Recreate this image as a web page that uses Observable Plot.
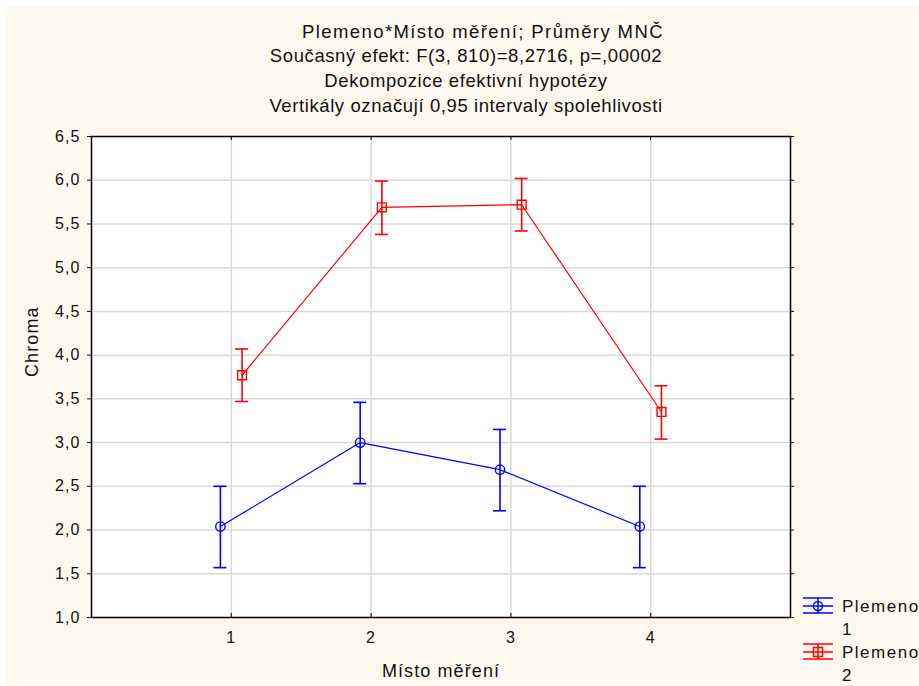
<!DOCTYPE html>
<html><head><meta charset="utf-8">
<script src="https://cdn.jsdelivr.net/npm/d3@7"></script>
<script src="https://cdn.jsdelivr.net/npm/@observablehq/plot@0.6"></script>
<style>
body{margin:0;background:#fff;font-family:"Liberation Sans",Arial,sans-serif;}
#wrap{position:relative;width:919px;height:686px;background:#fff;overflow:hidden;}
#panel{position:absolute;left:7px;top:7px;right:0;bottom:0;background:#fdf9ee;}
#chart{position:absolute;left:0;top:0;}
#title{position:absolute;left:0;width:932px;top:19.5px;text-align:center;font-size:18.5px;letter-spacing:0.6px;line-height:24.8px;color:#111;}
#title .first{letter-spacing:1.4px;padding-left:34px;}
#legend{position:absolute;left:0;top:0;}
</style></head>
<body>
<div id="wrap"><div id="panel"></div><div id="chart"></div><div id="title"></div><div id="legend"></div></div>
<script>
const titleLines = ["Plemeno*Místo měření; Průměry MNČ","Současný efekt: F(3, 810)=8,2716, p=,00002","Dekompozice efektivní hypotézy","Vertikály označují 0,95 intervaly spolehlivosti"];
const xLabel = "Místo měření";
const yLabel = "Chroma";
const places = [1,2,3,4];
const yTicks = [1,1.5,2,2.5,3,3.5,4,4.5,5,5.5,6,6.5];
const seriesNames = ["Plemeno 1","Plemeno 2"];
const seriesColors = ["#0000ff","#ff0000"];
const plemeno1Mean = [2.04, 3.00, 2.69, 2.04];
const plemeno1Low  = [1.57, 2.53, 2.22, 1.57];
const plemeno1High = [2.50, 3.46, 3.15, 2.50];
const plemeno2Mean = [3.77, 5.69, 5.72, 3.35];
const plemeno2Low  = [3.47, 5.38, 5.42, 3.04];
const plemeno2High = [4.07, 5.99, 6.02, 3.65];

document.getElementById("title").innerHTML = titleLines.map((t,i)=>`<div${i===0?' class="first"':''}>${t}</div>`).join("");

const offsets = [-0.078, 0.077];
const means = [plemeno1Mean, plemeno2Mean], lows=[plemeno1Low,plemeno2Low], highs=[plemeno1High,plemeno2High];
const data = [];
seriesNames.forEach((s,i)=>places.forEach((p,j)=>data.push({s, x:p+offsets[i], mean:means[i][j], lo:lows[i][j], hi:highs[i][j]})));
const fmt = d => d3.format(".1f")(d).replace(".",",");
const color = {domain: seriesNames, range: seriesColors};

const chart = Plot.plot({
  width: 919, height: 686,
  marginLeft: 91, marginRight: 129, marginTop: 136, marginBottom: 69,
  style: {background:"transparent", fontFamily:"'Liberation Sans', Arial, sans-serif", color:"#111", fontSize:"16px", letterSpacing:"1.1px"},
  x: {domain:[0,5]},
  y: {domain:[1,6.5]},
  color,
  marks: [
    Plot.frame({fill:"white"}),
    Plot.gridX(places, {stroke:"#d9d9d9", strokeOpacity:1, strokeWidth:1.5}),
    Plot.gridY(yTicks.slice(1,-1), {stroke:"#d9d9d9", strokeOpacity:1, strokeWidth:1.5}),
    Plot.axisY(yTicks, {tickFormat: fmt, tickSize:4, tickPadding:7, fontSize:16, label:null}),
    Plot.axisX(places, {tickFormat: d=>String(d), tickSize:0, tickPadding:14, fontSize:16, label:null}),
    Plot.text([xLabel], {frameAnchor:"bottom", dy:54, fontSize:18, lineAnchor:"middle", text:d=>d}),
    Plot.text([yLabel], {frameAnchor:"left", dx:-59, rotate:-90, fontSize:18, lineAnchor:"middle", text:d=>d}),
    Plot.ruleX(places, {x: d=>d, y1:1, y2:1, insetTop:-4, stroke:"#000", strokeWidth:1}),
    Plot.ruleX(places, {x: d=>d, y1:6.5, y2:6.5, insetBottom:-4, stroke:"#000", strokeWidth:1}),
    Plot.ruleY(yTicks, {y: d=>d, x1:5, x2:5, insetLeft:4, stroke:"#000", strokeWidth:1}),
    Plot.frame({stroke:"#000", strokeWidth:1.5}),
    Plot.ruleX(data, {x:"x", y1:"lo", y2:"hi", stroke:"s", strokeWidth:1.6}),
    Plot.ruleY(data, {y:"hi", x1:"x", x2:"x", insetLeft:-6.5, insetRight:-6.5, stroke:"s", strokeWidth:1.6}),
    Plot.ruleY(data, {y:"lo", x1:"x", x2:"x", insetLeft:-6.5, insetRight:-6.5, stroke:"s", strokeWidth:1.6}),
    Plot.line(data, {x:"x", y:"mean", z:"s", stroke:"s", strokeWidth:1.2}),
    Plot.dot(data.filter(d=>d.s===seriesNames[0]), {x:"x", y:"mean", r:4.7, symbol:"circle", stroke:"s", strokeWidth:1.4, fill:"none"}),
    Plot.dot(data.filter(d=>d.s===seriesNames[1]), {x:"x", y:"mean", r:5, symbol:"square", stroke:"s", strokeWidth:1.4, fill:"none"})
  ]
});
document.getElementById("chart").appendChild(chart);

// legend
const lg = d3.select("#legend").append("svg").attr("width",919).attr("height",686)
  .style("font-family","'Liberation Sans', Arial, sans-serif").style("font-size","17px").style("letter-spacing","1.5px");
const rows = [606, 652];
seriesNames.forEach((name,i)=>{
  const cy = rows[i], c = seriesColors[i];
  const g = lg.append("g").attr("stroke",c).attr("fill","none").attr("stroke-width",1.5);
  g.append("line").attr("x1",803).attr("x2",833).attr("y1",cy).attr("y2",cy);
  g.append("line").attr("x1",803).attr("x2",833).attr("y1",cy-8).attr("y2",cy-8);
  g.append("line").attr("x1",803).attr("x2",833).attr("y1",cy+7).attr("y2",cy+7);
  g.append("line").attr("x1",818).attr("x2",818).attr("y1",cy-8).attr("y2",cy+7);
  if(i===0) g.append("circle").attr("cx",818).attr("cy",cy).attr("r",4.5);
  else g.append("rect").attr("x",813.5).attr("y",cy-4.5).attr("width",9).attr("height",9);
  const parts = name.split(" ");
  const t = lg.append("text").attr("x",842).attr("y",cy+6).attr("fill","#111");
  t.append("tspan").attr("x",842).text(parts[0]);
  t.append("tspan").attr("x",842).attr("dy",23).text(parts[1]);
});
</script>
</body></html>
